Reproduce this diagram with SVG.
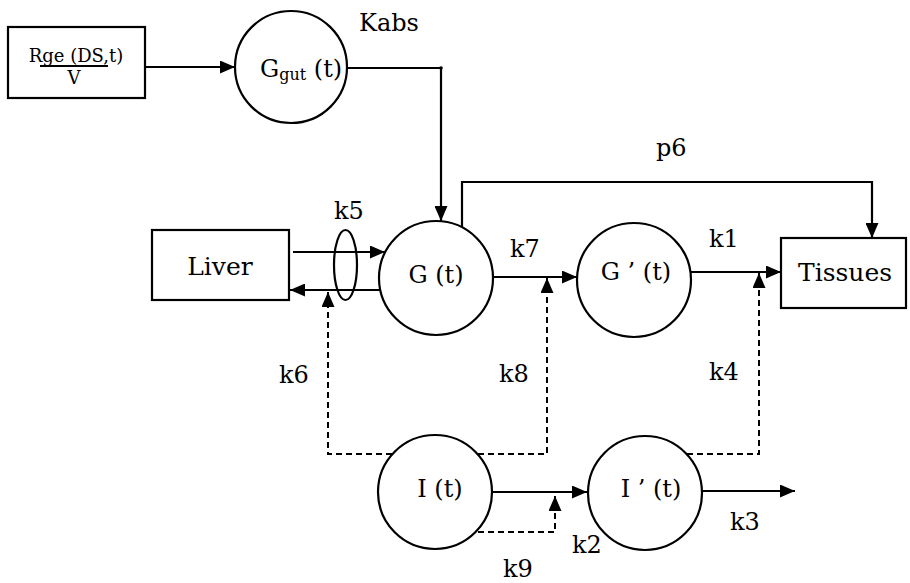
<svg xmlns="http://www.w3.org/2000/svg" width="910" height="583" viewBox="0 0 910 583">
<defs>
<style>
.n{fill:#fff;stroke:#000;stroke-width:2.2}
.t{font-family:'DejaVu Serif','Liberation Serif',serif;font-size:24px;fill:#000}
.c{fill:none;stroke:#000;stroke-width:2.2}
.d{fill:none;stroke:#000;stroke-width:2;stroke-dasharray:6 4}
</style>
<marker id="a" viewBox="0 0 15 13" refX="15" refY="6.5" markerWidth="15" markerHeight="13" markerUnits="userSpaceOnUse" orient="auto">
<path d="M0,0L15,6.5L0,13z" fill="#000"/>
</marker>
</defs>
<rect width="910" height="583" fill="#fff"/>
<g id="connectors">
<line class="c" x1="145" y1="67" x2="235" y2="67" marker-end="url(#a)"/>
<polyline class="c" points="347,68 441,68 441,221" marker-end="url(#a)"/>
<circle cx="441" cy="68" r="1.8" fill="#000"/>
<polyline class="c" points="462,227 462,182 872,182 872,238" marker-end="url(#a)"/>
<line class="c" x1="293" y1="252" x2="385" y2="252" marker-end="url(#a)"/>
<line class="c" x1="380" y1="290" x2="290" y2="290" marker-end="url(#a)"/>
<ellipse cx="345.5" cy="265" rx="11.5" ry="35" class="c"/>
<line class="c" x1="493" y1="277" x2="577" y2="277" marker-end="url(#a)"/>
<line class="c" x1="691" y1="272" x2="781" y2="272" marker-end="url(#a)"/>
<line class="c" x1="493" y1="492" x2="587" y2="492" marker-end="url(#a)"/>
<line class="c" x1="703" y1="491" x2="795" y2="491" marker-end="url(#a)"/>
<polyline class="d" points="392,454 328,454 328,292" marker-end="url(#a)"/>
<polyline class="d" points="478,454 547,454 547,278" marker-end="url(#a)"/>
<polyline class="d" points="687,454 759,454 759,273" marker-end="url(#a)"/>
<polyline class="d" points="478,532 555,532 555,496" marker-end="url(#a)"/>
</g>
<g id="rge">
<rect class="n" x="8" y="27" width="137" height="71"/>
<text class="t" x="76" y="62" text-anchor="middle" style="font-size:18px">Rge (DS,t)</text>
<line x1="40" y1="66" x2="108" y2="66" stroke="#000" stroke-width="2"/>
<text class="t" x="74" y="84" text-anchor="middle" style="font-size:18px">V</text>
</g>
<g id="ggut">
<circle class="n" cx="291" cy="67" r="56"/>
<text class="t" x="260" y="77">G<tspan style="font-size:16px" dy="3">gut</tspan><tspan dy="-3"> (t)</tspan></text>
</g>
<g id="liver">
<rect class="n" x="152" y="230" width="137" height="70"/>
<text class="t" x="220" y="275" text-anchor="middle" style="font-size:25px">Liver</text>
</g>
<g id="g">
<circle class="n" cx="436" cy="278" r="57"/>
<text class="t" x="436" y="283" text-anchor="middle">G (t)</text>
</g>
<g id="gp">
<circle class="n" cx="634" cy="280" r="57"/>
<text class="t" x="636" y="280" text-anchor="middle">G ’ (t)</text>
</g>
<g id="tissues">
<rect class="n" x="781" y="238" width="125" height="70"/>
<text class="t" x="845" y="281" text-anchor="middle" style="font-size:25px">Tissues</text>
</g>
<g id="i">
<circle class="n" cx="435" cy="492" r="57"/>
<text class="t" x="440" y="497" text-anchor="middle">I (t)</text>
</g>
<g id="ip">
<circle class="n" cx="645" cy="493" r="57"/>
<text class="t" x="651" y="497" text-anchor="middle">I ’ (t)</text>
</g>
<g id="labels">
<text class="t" x="359" y="31">Kabs</text>
<text class="t" x="656" y="156">p6</text>
<text class="t" x="334" y="219">k5</text>
<text class="t" x="510" y="257">k7</text>
<text class="t" x="709" y="247">k1</text>
<text class="t" x="279" y="383">k6</text>
<text class="t" x="499" y="382">k8</text>
<text class="t" x="709" y="380">k4</text>
<text class="t" x="572" y="553">k2</text>
<text class="t" x="503" y="577">k9</text>
<text class="t" x="730" y="530">k3</text>
</g>
</svg>
